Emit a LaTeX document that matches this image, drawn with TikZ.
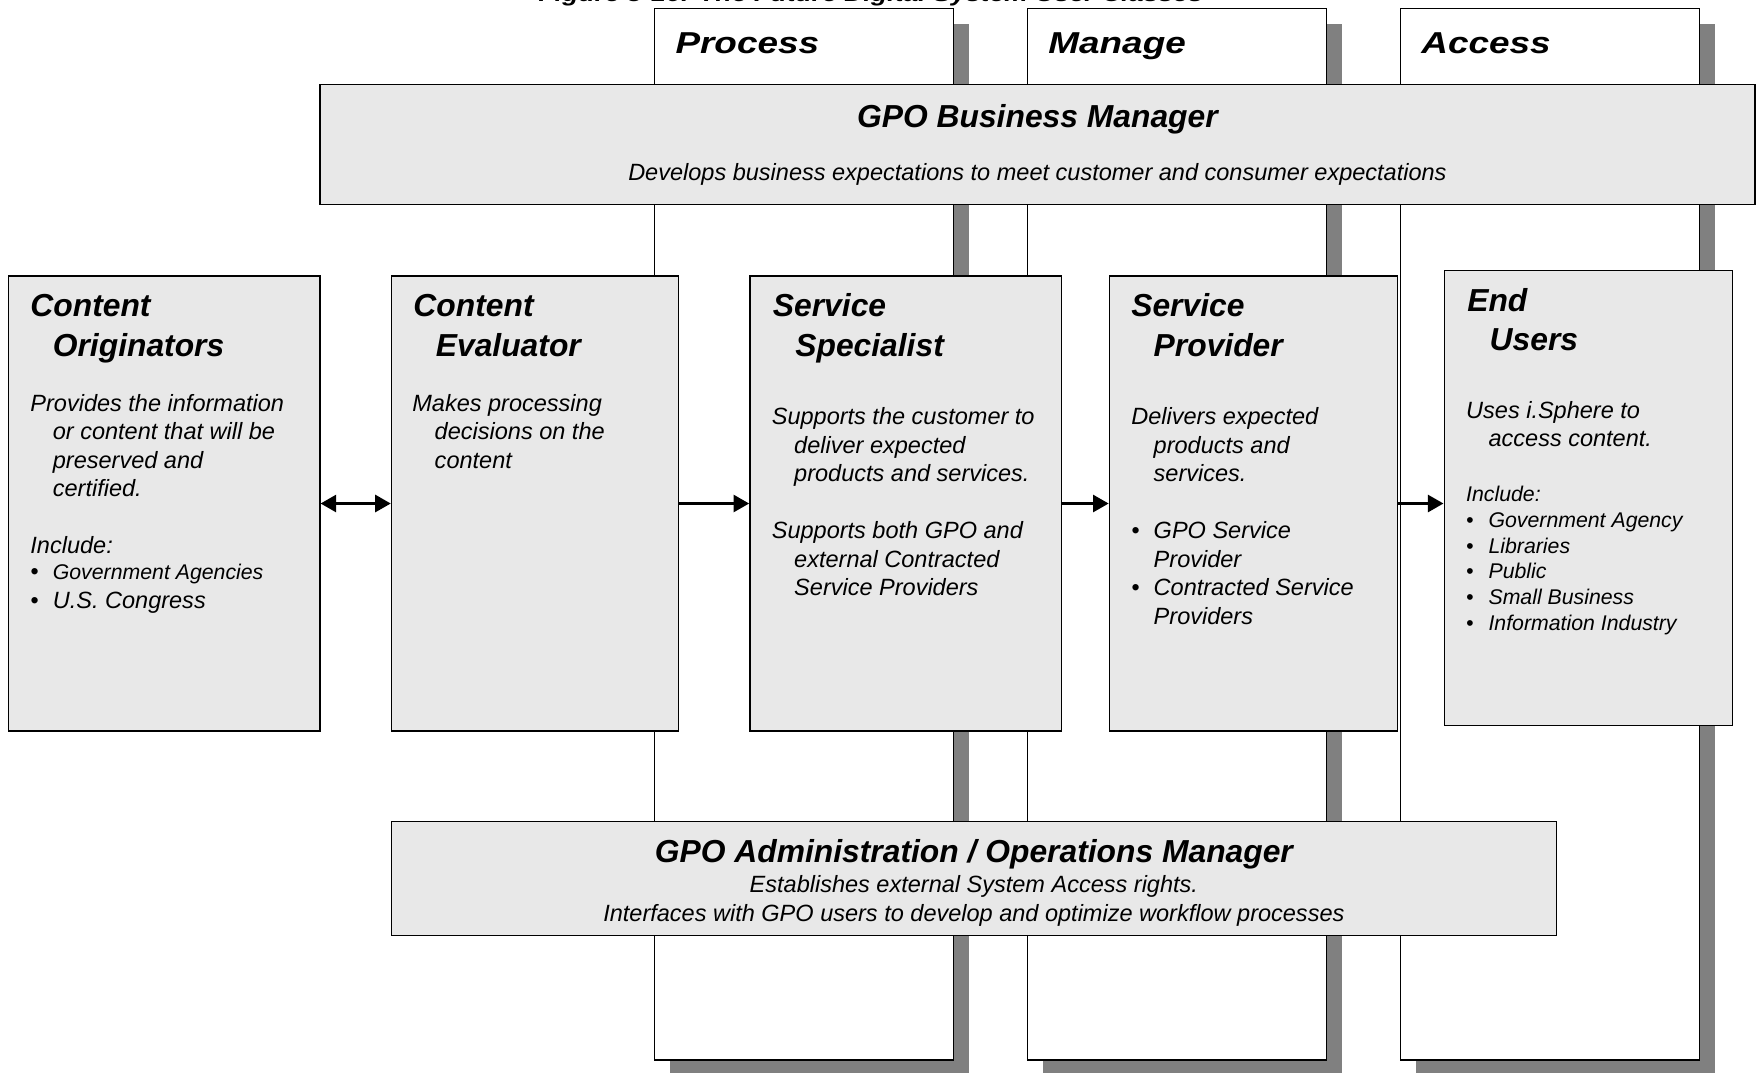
\documentclass[tikz,border=0pt]{standalone}
\usepackage{fontspec}
\setmainfont{Liberation Sans}
\newfontfamily\widesans[FakeStretch=1.22]{Liberation Sans}
\usetikzlibrary{arrows.meta,calc,shadows}
\definecolor{panelgrey}{HTML}{E8E8E8}
\definecolor{shadegrey}{HTML}{808080}
\newcommand\lanefont{\widesans\fontsize{27}{32}\selectfont\bfseries\itshape}
\newcommand\headfont{\fontsize{28.4}{35}\selectfont\bfseries\itshape}
\newcommand\bodyfont{\fontsize{21}{25.5}\selectfont\itshape}
\newcommand\smallbody{\fontsize{19}{23}\selectfont\itshape}
\newcommand\linesof[1]{\begin{tabular}[t]{@{}l@{}}#1\end{tabular}}
\newcommand\moreline{\hspace*{20pt}}
\newcommand\dotitem{\makebox[20pt][l]{\textbullet}}
\tikzset{
  lane/.style={draw,line width=1.2pt,fill=white,anchor=north west,inner sep=0pt,
    minimum width=267pt,minimum height=939pt,
    drop shadow={shadow xshift=14pt,shadow yshift=-14pt,fill=shadegrey,opacity=1}},
  lanelabel/.style={anchor=base west,inner sep=0pt,font=\lanefont},
  panel/.style={draw,line width=1.2pt,fill=panelgrey,anchor=north west,inner sep=0pt},
  panelhead/.style={anchor=base west,inner sep=0pt,font=\headfont},
  paneltext/.style={anchor=base west,inner sep=0pt,font=\bodyfont},
  link/.style={line width=3pt,-{Triangle[length=14pt,width=15pt]}},
  twolink/.style={line width=3pt,{Triangle[length=14pt,width=15pt]}-{Triangle[length=14pt,width=15pt]}}
}
\begin{document}
\begin{tikzpicture}[x=1pt,y=-1pt]
  \useasboundingbox (0,0) rectangle (1568,958);
  \node[anchor=base,inner sep=0pt,font=\widesans\fontsize{19.5}{24}\selectfont\bfseries\itshape]
    (caption) at (777.5,1.5) {Figure 3-16: The Future Digital System User Classes};

  % the three lanes
  \node[lane] (process) at (584,7) {};
  \node[lane] (manage) at (917,7) {};
  \node[lane] (access) at (1250,7) {};
  \node[lanelabel] (process-label) at ($(process.north west)+(19,40.6)$) {Process};
  \node[lanelabel] (manage-label) at ($(manage.north west)+(19,40.6)$) {Manage};
  \node[lanelabel] (access-label) at ($(access.north west)+(19,40.6)$) {Access};

  % business manager
  \node[panel,minimum width=1281.5pt,minimum height=107pt] (business) at (285,75) {};
  \node[anchor=base,inner sep=0pt,font=\headfont] (business-head) at ($(business.north)+(0,39)$) {GPO Business Manager};
  \node[anchor=base,inner sep=0pt,font=\bodyfont] (business-text) at ($(business.north)+(0,86)$)
    {Develops business expectations to meet customer and consumer expectations};

  % user classes
  \node[panel,minimum width=278pt,minimum height=406pt] (orig) at (7,246) {};
  \node[panelhead] (orig-head) at ($(orig.north west)+(20,37)$) {\linesof{Content\\\moreline Originators}};
  \node[paneltext] (orig-text) at ($(orig.north west)+(20,121)$) {\linesof{
    Provides the information\\
    \moreline or content that will be\\
    \moreline preserved and\\
    \moreline certified.\\
    \\
    Include:\\[-2.5pt]
    \dotitem{\smallbody Government Agencies}\\
    \dotitem U.S. Congress}};

  \node[panel,minimum width=256pt,minimum height=406pt] (eval) at (349,246) {};
  \node[panelhead] (eval-head) at ($(eval.north west)+(20,37)$) {\linesof{Content\\\moreline Evaluator}};
  \node[paneltext] (eval-text) at ($(eval.north west)+(19,121)$) {\linesof{
    Makes processing\\
    \moreline decisions on the\\
    \moreline content}};

  \node[panel,minimum width=278pt,minimum height=406pt] (spec) at (669,246) {};
  \node[panelhead] (spec-head) at ($(spec.north west)+(21,37)$) {\linesof{Service\\\moreline Specialist}};
  \node[paneltext] (spec-text) at ($(spec.north west)+(20,133)$) {\linesof{
    Supports the customer to\\
    \moreline deliver expected\\
    \moreline products and services.\\
    \\
    Supports both GPO and\\
    \moreline external Contracted\\
    \moreline Service Providers}};

  \node[panel,minimum width=257pt,minimum height=406pt] (prov) at (990,246) {};
  \node[panelhead] (prov-head) at ($(prov.north west)+(20,37)$) {\linesof{Service\\\moreline Provider}};
  \node[paneltext] (prov-text) at ($(prov.north west)+(20,133)$) {\linesof{
    Delivers expected\\
    \moreline products and\\
    \moreline services.\\
    \\
    \dotitem GPO Service\\
    \moreline Provider\\
    \dotitem Contracted Service\\
    \moreline Providers}};

  \node[panel,minimum width=257.5pt,minimum height=406pt] (users) at (1289,241) {};
  \node[panelhead] (users-head) at ($(users.north west)+(21,37)$) {\linesof{End\\\moreline Users}};
  \node[paneltext] (users-text) at ($(users.north west)+(20,132.5)$) {\linesof{
    Uses i.Sphere to\\
    \moreline access content.}};
  \node[paneltext,font=\smallbody] (users-list) at ($(users.north west)+(20,207)$) {\linesof{
    Include:\\
    \dotitem Government Agency\\
    \dotitem Libraries\\
    \dotitem Public\\
    \dotitem Small Business\\
    \dotitem Information Industry}};

  % administration
  \node[panel,minimum width=1040pt,minimum height=102pt] (admin) at (349,733) {};
  \node[anchor=base,inner sep=0pt,font=\headfont] (admin-head) at ($(admin.north)+(0,37)$)
    {GPO Administration / Operations Manager};
  \node[anchor=base,inner sep=0pt,font=\bodyfont] (admin-text) at ($(admin.north)+(0,64)$) {\linesof{
    \hfill Establishes external System Access rights.\hfill\null\\
    Interfaces with GPO users to develop and optimize workflow processes}};

  % flow between the classes
  \draw[twolink] (orig) -- (eval);
  \draw[link] (eval) -- (spec);
  \draw[link] (spec) -- (prov);
  \draw[link] (prov.east) -- (prov.east -| users.west);
\end{tikzpicture}
\end{document}
